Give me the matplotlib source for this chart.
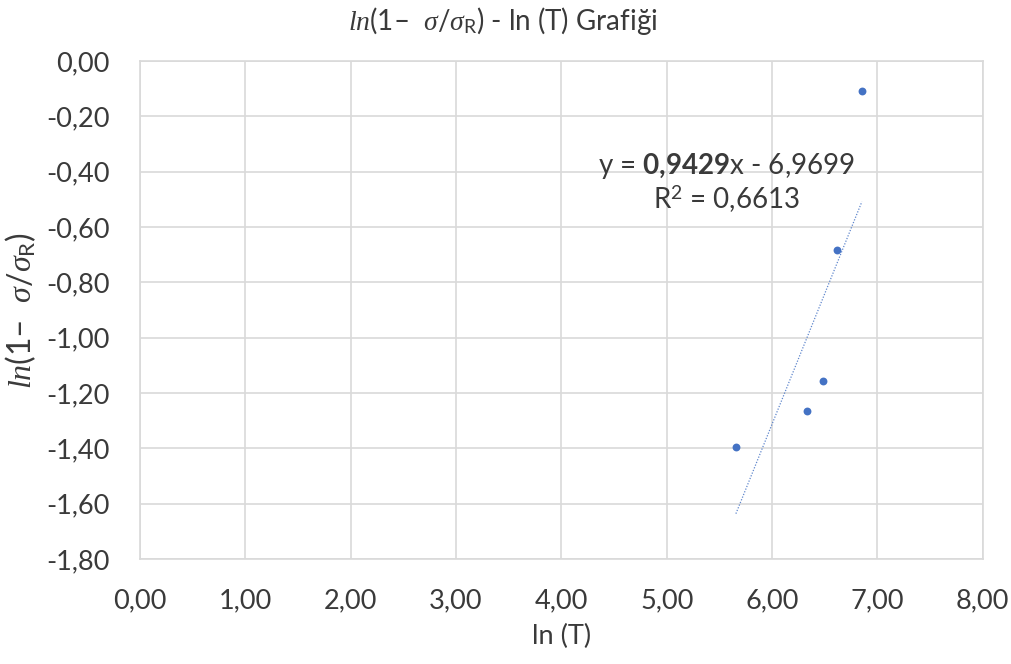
import matplotlib
matplotlib.use("Agg")
import matplotlib.pyplot as plt
from matplotlib.ticker import FuncFormatter
import numpy as np

plt.rcParams['font.family'] = ['Lato', 'DejaVu Sans']
plt.rcParams['mathtext.fontset'] = 'custom'
plt.rcParams['mathtext.rm'] = 'Lato'
plt.rcParams['mathtext.it'] = 'Liberation Serif:italic'
plt.rcParams['mathtext.bf'] = 'Lato:bold'

# measured points: ln(T) vs ln(1 - sigma/sigma_R)
ln_T = [5.657, 6.328, 6.483, 6.616, 6.853]
ln_ratio = [-1.394, -1.265, -1.157, -0.684, -0.107]

# linear trendline reported on the chart
slope = 0.9429
intercept = -6.9699
r_squared = 0.6613

x_ticks = [0, 1, 2, 3, 4, 5, 6, 7, 8]
y_ticks = [0.0, -0.2, -0.4, -0.6, -0.8, -1.0, -1.2, -1.4, -1.6, -1.8]

blue = '#4472C4'
grid_col = '#d9d9d9'
text_col = '#3a3a3a'

fig = plt.figure(figsize=(10.11, 6.64), dpi=100)
ax = fig.add_axes([0.1385, 0.158, 0.8335, 0.750])

ax.scatter(ln_T, ln_ratio, s=32, color=blue, zorder=3, linewidths=0)

xs = np.array([min(ln_T), max(ln_T)])
ax.plot(xs, slope * xs + intercept, color=blue, lw=0.9, ls=(0, (1, 1.3)),
        alpha=0.85, zorder=2)

ax.set_xlim(x_ticks[0], x_ticks[-1])
ax.set_ylim(y_ticks[-1], y_ticks[0])
ax.set_xticks(x_ticks)
ax.set_yticks(y_ticks)

fmt = FuncFormatter(lambda v, p: f"{v:.2f}".replace('.', ','))
ax.xaxis.set_major_formatter(fmt)
ax.yaxis.set_major_formatter(fmt)

ax.grid(True, color=grid_col, lw=1.2)
ax.set_axisbelow(True)
for s in ax.spines.values():
    s.set_color(grid_col)
    s.set_linewidth(1.2)
ax.tick_params(length=0, labelsize=19.5, labelcolor=text_col)
ax.tick_params(axis='x', pad=21)
ax.tick_params(axis='y', pad=22)

ax.set_xlabel("ln (T)", fontsize=19.5, color=text_col, labelpad=8)
ax.set_ylabel(r"$ln$(1–  $\sigma/\sigma_{\mathrm{R}}$)", fontsize=23, color=text_col, labelpad=6)
fig.text(0.497, 0.968, r"$ln$(1–  $\sigma/\sigma_{\mathrm{R}}$) - ln (T) Grafiği",
         ha='center', va='center', fontsize=20, color=text_col)

ax.text(5.57, -0.379, r"y = $\mathbf{0{,}9429}$x - 6,9699", ha='center', va='center',
        fontsize=20, color=text_col)
r2_text = f"{r_squared:.4f}".replace('.', ',')
ax.text(5.57, -0.499, r"R$^{\mathrm{2}}$ = " + r2_text, ha='center', va='center',
        fontsize=20, color=text_col)

fig.savefig("out.png", dpi=100)
